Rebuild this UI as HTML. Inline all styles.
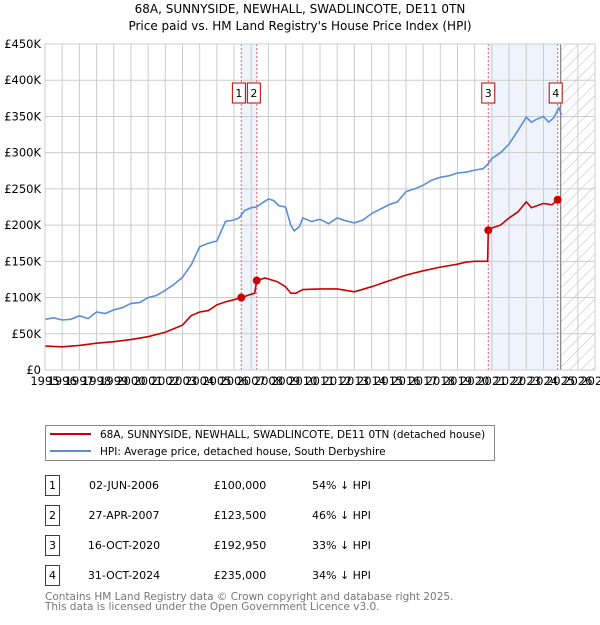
<!DOCTYPE html>
<html><head><meta charset="utf-8"><style>
body{margin:0;background:#fff;font-family:"Liberation Sans","DejaVu Sans",sans-serif;}
svg text{font-family:"DejaVu Sans","Liberation Sans",sans-serif;}
</style></head><body>
<svg id="c" width="600" height="620" viewBox="0 0 600 620">
<defs><pattern id="hatch" width="8" height="8" patternUnits="userSpaceOnUse" patternTransform="rotate(45)"><line x1="0" y1="0" x2="0" y2="8" stroke="#bbb" stroke-width="1"/></pattern></defs>
<text x="300" y="13" text-anchor="middle" font-size="12">68A, SUNNYSIDE, NEWHALL, SWADLINCOTE, DE11 0TN</text>
<text x="300" y="30" text-anchor="middle" font-size="12">Price paid vs. HM Land Registry's House Price Index (HPI)</text>
<g id="plot"></g>
<g>
<rect x="45.5" y="425.5" width="449" height="35" fill="#fff" stroke="#888"/>
<line x1="50" y1="434" x2="91" y2="434" stroke="#cc0000" stroke-width="2"/>
<text x="100" y="438" font-size="10.5">68A, SUNNYSIDE, NEWHALL, SWADLINCOTE, DE11 0TN (detached house)</text>
<line x1="50" y1="451" x2="91" y2="451" stroke="#5b8ed6" stroke-width="2"/>
<text x="100" y="455" font-size="10.5">HPI: Average price, detached house, South Derbyshire</text>
</g>
<g id="table" font-size="10.5"></g>
<text x="45" y="600" font-size="10.5" fill="#777">Contains HM Land Registry data © Crown copyright and database right 2025.</text>
<text x="45" y="610" font-size="10.5" fill="#777">This data is licensed under the Open Government Licence v3.0.</text>
</svg>
<script>
const hpiYears=[1995,1995.5,1996,1996.5,1997,1997.5,1998,1998.5,1999,1999.5,2000,2000.5,2001,2001.5,2002,2002.5,2003,2003.5,2004,2004.5,2005,2005.5,2006,2006.3,2006.6,2007,2007.3,2007.6,2008,2008.3,2008.6,2009,2009.3,2009.5,2009.8,2010,2010.5,2011,2011.5,2012,2012.5,2013,2013.5,2014,2014.5,2015,2015.5,2016,2016.5,2017,2017.5,2018,2018.5,2019,2019.5,2020,2020.5,2020.8,2021,2021.5,2022,2022.5,2023,2023.3,2023.6,2024,2024.3,2024.6,2024.9,2025.05];
const hpiValues=[70,72,69,70,75,71,80,78,83,86,92,93,100,103,110,118,128,145,170,175,178,205,207,210,220,224,225,230,236,234,227,225,200,192,198,210,205,208,202,210,206,203,207,216,222,228,232,246,250,255,262,266,268,272,273,276,278,285,292,300,312,330,349,342,346,350,342,348,362,352];
const ppYears=[1995,1996,1997,1998,1999,2000,2001,2002,2003,2003.5,2004,2004.5,2005,2005.5,2006,2006.42,2006.9,2007.2,2007.32,2007.8,2008.5,2009,2009.3,2009.6,2010,2011,2012,2013,2014,2015,2016,2017,2018,2019,2019.5,2020,2020.75,2020.79,2021,2021.5,2022,2022.5,2023,2023.3,2024,2024.5,2024.83,2025.05];
const ppValues=[33,32,34,37,39,42,46,52,62,75,80,82,90,94,97,100,104,106,123.5,127,122,115,106,106,111,112,112,108,115,123,131,137,142,146,149,150,150,192.95,196,200,210,218,232,224,230,228,235,235];
const saleYears=[2006.42,2007.32,2020.79,2024.83];
const saleValues=[100,123.5,192.95,235];
const saleLabels=["1","2","3","4"];
const saleDates=["02-JUN-2006","27-APR-2007","16-OCT-2020","31-OCT-2024"];
const salePrices=["£100,000","£123,500","£192,950","£235,000"];
const saleDiffs=["54% ↓ HPI","46% ↓ HPI","33% ↓ HPI","34% ↓ HPI"];
const yTicks=[0,50,100,150,200,250,300,350,400,450];
const yTickLabels=["£0","£50K","£100K","£150K","£200K","£250K","£300K","£350K","£400K","£450K"];
const xTicks=[1995,1996,1997,1998,1999,2000,2001,2002,2003,2004,2005,2006,2007,2008,2009,2010,2011,2012,2013,2014,2015,2016,2017,2018,2019,2020,2021,2022,2023,2024,2025,2026,2027];

const NS="http://www.w3.org/2000/svg";
const X0=45,X1=595,Y0=370,Y1=44;
const xs=y=>X0+(y-1995)/(2027-1995)*(X1-X0);
const ys=v=>Y0-v/450*(Y0-Y1);
const plot=document.getElementById('plot');
function mk(tag,attrs,parent){const e=document.createElementNS(NS,tag);for(const k in attrs)e.setAttribute(k,attrs[k]);(parent||plot).appendChild(e);return e;}

let s=mk('rect',{x:xs(saleYears[0]),y:Y1,width:xs(saleYears[1])-xs(saleYears[0]),height:Y0-Y1,fill:'#eef3fc'});


s=mk('rect',{x:xs(saleYears[2]),y:Y1,width:xs(saleYears[3])-xs(saleYears[2]),height:Y0-Y1,fill:'#eef3fc'});


s=mk('rect',{x:xs(2025),y:Y1,width:X1-xs(2025),height:Y0-Y1,fill:'url(#hatch)'});



yTicks.forEach((t,i)=>{
  const l=mk('line',{x1:X0,x2:X1,y1:ys(t),y2:ys(t),stroke:'#ccc','stroke-width':1});
  
  
  const tx=mk('text',{x:X0-4,y:ys(t)+4,'text-anchor':'end','font-size':11.5});
  tx.textContent=yTickLabels[i];
  
  
});
xTicks.forEach(t=>{
  const l=mk('line',{x1:xs(t),x2:xs(t),y1:Y1,y2:Y0,stroke:'#ccc','stroke-width':1});
  
  
  const tx=mk('text',{x:xs(t),y:Y0+15,'text-anchor':'middle','font-size':11.5});
  tx.textContent=t;
  
  
});
const now=mk('line',{x1:xs(2025),x2:xs(2025),y1:Y1,y2:Y0,stroke:'#888','stroke-width':1.2});



saleYears.forEach((y,i)=>{
  const l=mk('line',{x1:xs(y),x2:xs(y),y1:Y1,y2:Y0,stroke:'#e06060','stroke-dasharray':'2,2','stroke-width':1});
  
  
});

function line(xa,va,color,name){
  const p=mk('path',{d:xa.map((x,i)=>(i?'L':'M')+xs(x).toFixed(1)+','+ys(va[i]).toFixed(1)).join(''),fill:'none',stroke:color,'stroke-width':1.6});
  
  
}
line(hpiYears,hpiValues,'#5b8ed6','hpi-line');
line(ppYears,ppValues,'#cc0000','price-paid-line');
saleYears.forEach((y,i)=>{
  const c=mk('circle',{cx:xs(y),cy:ys(saleValues[i]),r:4,fill:'#cc0000'});
  
  
});
const labelOffsets=[-2.4,-2.9,0,-2];
saleYears.forEach((y,i)=>{
  const cx=xs(y)+labelOffsets[i];
  const g=mk('g',{});
  
  
  mk('rect',{x:cx-6.5,y:83,width:13,height:20,fill:'#fff',stroke:'#b00'},g);
  const t=mk('text',{x:cx,y:97,'text-anchor':'middle','font-size':11},g);
  t.textContent=saleLabels[i];
});
const ax=mk('rect',{x:X0,y:Y1,width:X1-X0,height:Y0-Y1,fill:'none',stroke:'#ccc'});



const tb=document.getElementById('table');
saleLabels.forEach((l,i)=>{
  const y=475+i*30;
  const g=mk('g',{},tb);
  
  
  mk('rect',{x:45.5,y:y+0.5,width:14,height:20,fill:'#fff',stroke:'#cc0000'},g);
  const t0=mk('text',{x:52.5,y:y+14,'text-anchor':'middle','font-size':11},g);t0.textContent=l;
  const t1=mk('text',{x:124,y:y+14,'text-anchor':'middle','font-size':11},g);t1.textContent=saleDates[i];
  const t2=mk('text',{x:240,y:y+14,'text-anchor':'middle','font-size':11},g);t2.textContent=salePrices[i];
  const t3=mk('text',{x:312,y:y+14,'font-size':11},g);t3.textContent=saleDiffs[i];
});
</script>
</body></html>
